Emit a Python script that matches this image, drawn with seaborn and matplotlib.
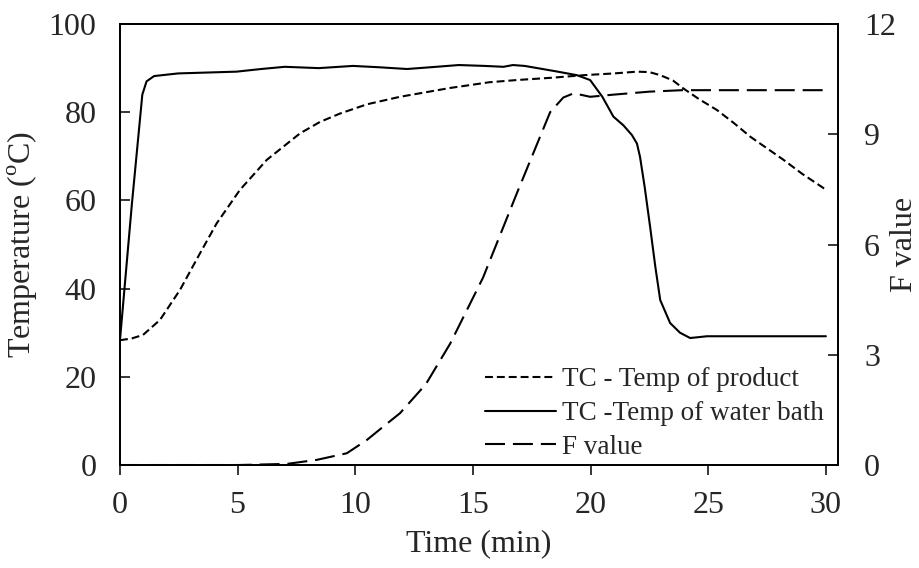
import matplotlib
matplotlib.use("Agg")
import matplotlib.pyplot as plt
import pandas as pd
import seaborn as sns
from matplotlib.lines import Line2D

# Core (product) temperature, degC
product_time = [0, 0.5, 0.98, 1.7, 2.55, 3.4, 4.11, 5.1, 6.24, 7.65, 8.5, 9.35,
                10.5, 11.9, 14.03, 15.7, 16.87, 18.3, 19.7, 21.0, 21.97, 22.5,
                22.96, 23.5, 23.94, 24.6, 25.37, 26.1, 26.8, 27.5, 28.2, 29.0, 29.9, 30.0]
product_temp = [28.3, 28.7, 29.5, 32.9, 39.7, 48.0, 54.8, 62.4, 69.2, 75.2, 77.8, 79.7,
                81.8, 83.5, 85.5, 86.8, 87.3, 87.8, 88.4, 88.8, 89.2, 89.1,
                88.4, 87.2, 85.4, 83.0, 80.5, 77.5, 74.4, 71.8, 69.2, 66.0, 62.8, 62.6]

# Water bath temperature, degC
bath_time = [0, 0.5, 0.95, 1.13, 1.45, 2.47, 4.95, 6.0, 7.0, 8.45, 9.9, 11.0,
             12.2, 13.2, 14.4, 15.5, 16.3, 16.7, 17.2, 18.5, 19.42, 19.98, 20.5,
             20.97, 21.4, 21.76, 21.97, 22.1, 22.3, 22.53, 22.75, 22.96, 23.38,
             23.8, 24.23, 24.6, 24.94, 30.0]
bath_temp = [28.3, 58.8, 84.0, 87.0, 88.2, 88.8, 89.2, 89.8, 90.3, 90.0, 90.5, 90.2,
             89.8, 90.2, 90.7, 90.5, 90.3, 90.7, 90.5, 89.3, 88.4, 87.3, 83.5,
             79.0, 77.0, 74.8, 72.9, 69.9, 63.0, 54.0, 45.0, 37.4, 32.2,
             30.0, 28.8, 29.0, 29.2, 29.2]

# Accumulated lethality (F value), min
f_time = [0, 5.0, 7.09, 8.36, 9.64, 10.49, 11.18, 11.9, 13.0, 14.03, 15.43, 16.87,
          18.28, 18.84, 19.26, 19.55, 19.98, 21.0, 22.5, 23.9, 30.0]
f_value = [0, 0, 0.03, 0.14, 0.32, 0.68, 1.04, 1.41, 2.2, 3.3, 5.1, 7.4,
           9.6, 10.0, 10.11, 10.08, 10.02, 10.08, 10.16, 10.2, 10.2]

series_labels = ["TC - Temp of product", "TC -Temp of water bath", "F value"]

sns.set_style("ticks")
plt.rcParams["font.family"] = ["Liberation Serif", "DejaVu Serif"]
plt.rcParams["mathtext.fontset"] = "custom"
plt.rcParams["mathtext.rm"] = "Liberation Serif"
plt.rcParams["axes.linewidth"] = 1.3

fig = plt.figure(figsize=(9.2, 5.68), dpi=100)
ax = fig.add_axes([0.1304, 0.1813, 0.7801, 0.7764])
ax2 = ax.twinx()

lw = 1.5
dots = (0, (3.8, 1.9))
dashes = (0, (9.6, 3.8))
prod_df = pd.DataFrame({"time": product_time, "value": product_temp})
bath_df = pd.DataFrame({"time": bath_time, "value": bath_temp})
f_df = pd.DataFrame({"time": f_time, "value": f_value})

sns.lineplot(data=prod_df, x="time", y="value", ax=ax, color="black", lw=lw,
             linestyle=dots, legend=False)
sns.lineplot(data=bath_df, x="time", y="value", ax=ax, color="black", lw=lw,
             linestyle="-", legend=False)
sns.lineplot(data=f_df, x="time", y="value", ax=ax2, color="black", lw=lw,
             linestyle=dashes, legend=False)

ax.set_xlim(0, 30.5)
ax.set_ylim(0, 100)
ax2.set_ylim(0, 12)
ax.set_xticks([0, 5, 10, 15, 20, 25, 30])
ax.set_yticks([0, 20, 40, 60, 80, 100])
ax2.set_yticks([0, 3, 6, 9, 12])

fs = 23
ax.tick_params(axis="y", direction="in", length=7, width=1.3, labelsize=fs, pad=17)
ax.tick_params(axis="x", direction="out", length=7, width=1.3, labelsize=fs, pad=12)
ax2.tick_params(axis="y", direction="in", length=7, width=1.3, labelsize=fs, pad=19)

ax.set_xlabel("Time (min)", fontsize=fs, labelpad=6)
ax.set_ylabel(r"Temperature ($^{\mathrm{o}}$C)", fontsize=fs, labelpad=6)
ax2.set_ylabel("F value", fontsize=fs, labelpad=-4.5)

for a in (ax, ax2):
    for s in a.spines.values():
        s.set_visible(True)
        s.set_linewidth(1.3)
        s.set_color("black")

handles = [
    Line2D([], [], color="black", lw=lw, linestyle=dots),
    Line2D([], [], color="black", lw=lw, linestyle="-"),
    Line2D([], [], color="black", lw=lw, linestyle=dashes),
]
ax2.legend(handles, series_labels, loc="lower right", bbox_to_anchor=(1.004, -0.025),
           frameon=False, fontsize=19.5, handlelength=2.6, handletextpad=0.25,
           labelspacing=0.32, borderaxespad=0.2)

fig.savefig("out.png", dpi=100)
